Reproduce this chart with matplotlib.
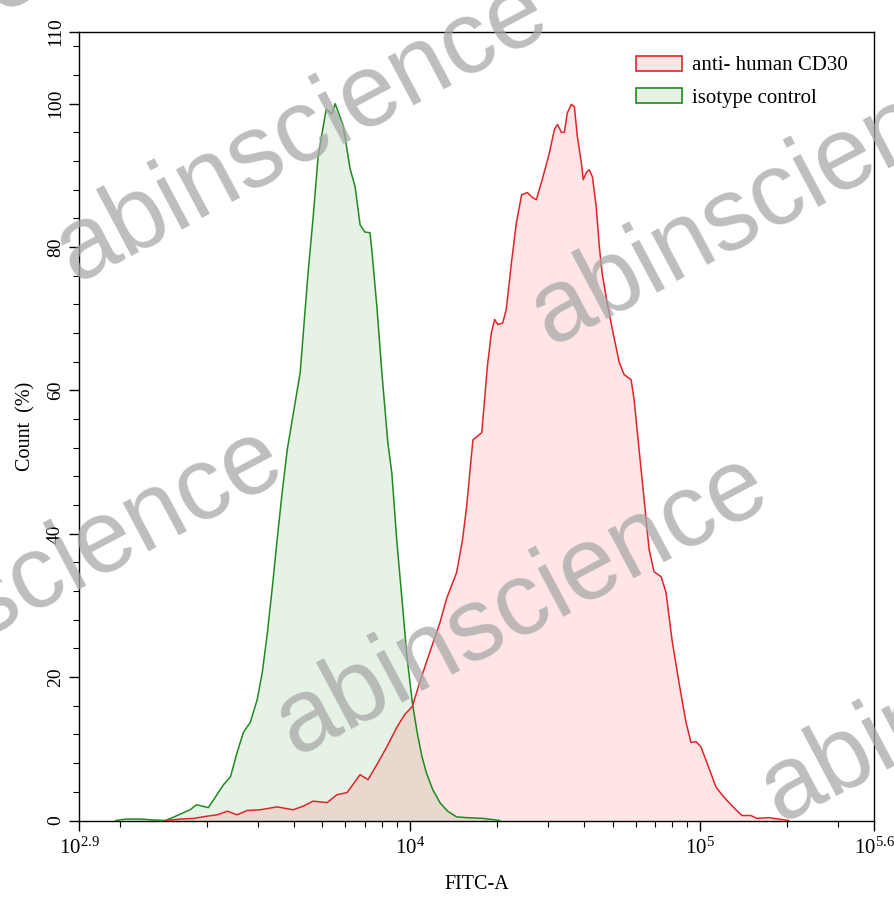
"""Flow cytometry overlay histogram: anti-human CD30 vs isotype control."""

import matplotlib.pyplot as plt
from matplotlib.patches import Patch

plt.rcParams["font.family"] = ["Liberation Serif", "DejaVu Serif"]
plt.rcParams["mathtext.fontset"] = "custom"
plt.rcParams["mathtext.rm"] = "Liberation Serif"

# isotype control (green)
iso_x = [969, 1050, 1180, 1280, 1440, 1520, 1660, 1750, 1840, 1930, 2020, 2140,
         2280, 2410, 2540, 2670, 2820, 2980, 3100, 3230, 3360, 3490, 3630, 3780,
         4190, 4460, 4640, 4830, 4990, 5150, 5390, 5530, 5890, 6220, 6480, 6740,
         7000, 7290, 7400, 7700, 8010, 8400, 8670, 9020, 9390, 9770, 10200, 10600,
         11000, 11400, 12000, 12700, 13500, 14500, 15700, 17800, 19600, 20400]
iso_y = [0.0, 0.2, 0.2, 0.1, 0.0, 0.4, 1.1, 1.5, 2.2, 2.0, 1.8, 3.3,
         5.0, 6.1, 9.5, 12.3, 13.7, 16.9, 20.6, 26.2, 32.6, 39.2, 45.7, 51.7,
         62.5, 76.4, 84.0, 92.6, 96.0, 99.2, 98.6, 100.0, 97.0, 91.0, 88.4, 83.1,
         82.1, 82.0, 79.5, 71.7, 62.5, 52.7, 48.5, 39.0, 31.0, 23.0, 16.5, 12.3,
         9.0, 6.7, 4.3, 2.5, 1.3, 0.5, 0.4, 0.3, 0.1, 0.0]

# anti-human CD30 (red)
cd30_x = [1440, 1620, 1800, 2000, 2170, 2350, 2540, 2750, 3050, 3490, 3960, 4290,
          4640, 5190, 5610, 6080, 6740, 7180, 7700, 8340, 9020, 9610, 10200, 10800,
          11700, 12700, 13400, 14500, 15200, 15700, 16100, 16500, 17100, 17700, 18100,
          18500, 19100, 19600, 20100, 20900, 21500, 22400, 23300, 24300, 25400, 26500,
          27300, 28600, 30300, 31500, 32300, 33300, 34100, 34900, 36000, 36900, 37800,
          39000, 39600, 40600, 41500, 42600, 43900, 45000, 46000, 47500, 49900, 52700,
          54800, 57900, 59300, 61700, 64200, 66800, 69500, 73500, 76400, 80100, 84700,
          89500, 93100, 96900, 100700, 105600, 113500, 119000, 125900, 133100, 139400,
          149700, 157000, 172700, 186800, 202000]
cd30_y = [0.0, 0.2, 0.3, 0.6, 0.8, 1.3, 0.8, 1.4, 1.5, 1.9, 1.5, 2.0,
          2.7, 2.5, 3.6, 3.9, 6.4, 5.7, 7.8, 10.3, 13.0, 14.8, 15.9, 19.2,
          23.4, 27.6, 31.0, 34.6, 39.2, 43.8, 48.5, 53.1, 53.6, 54.1, 58.7,
          63.3, 68.0, 69.9, 69.2, 69.4, 71.3, 77.8, 83.4, 87.3, 87.6, 86.9,
          86.6, 89.4, 93.2, 96.4, 97.1, 96.0, 96.0, 98.7, 99.9, 99.6, 95.4,
          91.8, 89.4, 90.4, 90.8, 89.8, 85.6, 80.0, 76.4, 73.0, 68.5, 63.9,
          62.2, 61.5, 58.7, 51.7, 44.8, 37.8, 34.7, 34.0, 31.8, 25.2, 19.2,
          13.7, 10.9, 11.0, 10.3, 8.1, 4.7, 3.6, 2.5, 1.5, 0.7,
          0.7, 0.3, 0.4, 0.2, 0.0]

x_ticks = [10 ** 2.86, 1e4, 1e5, 10 ** 5.6]
x_tick_labels = [r"$\mathregular{10^{2.9}}$", r"$\mathregular{10^{4}}$",
                 r"$\mathregular{10^{5}}$", r"$\mathregular{10^{5.6}}$"]
y_ticks = [0, 20, 40, 60, 80, 100, 110]

RED = "#e0242a"
GREEN = "#1f8a1f"

fig = plt.figure(figsize=(8.95, 8.99), dpi=100)
ax = fig.add_axes([0.0883, 0.0873, 0.8883, 0.8771])

ax.fill_between(iso_x, iso_y, 0, color=(0, 0.5, 0), alpha=0.1, lw=0, zorder=1)
ax.fill_between(cd30_x, cd30_y, 0, color=(1, 0, 0), alpha=0.1, lw=0, zorder=1)
ax.plot(iso_x, iso_y, color=GREEN, lw=1.1, zorder=3)
ax.plot(cd30_x, cd30_y, color=RED, lw=1.1, zorder=3)

ax.set_xscale("log")
ax.set_xlim(10 ** 2.86, 10 ** 5.6)
ax.set_ylim(0, 110)

ax.set_xticks(x_ticks)
ax.set_xticklabels(x_tick_labels)
minor_x = [1000] + [k * 1000 for k in range(2, 10)] + [k * 10000 for k in range(2, 10)] + [2e5, 3e5]
ax.set_xticks(minor_x, minor=True)
ax.set_xticklabels([], minor=True)

ax.set_yticks(y_ticks)
ax.set_yticks([v for v in range(4, 110, 4) if v % 20 != 0], minor=True)
for lab in ax.get_yticklabels():
    lab.set_rotation(90)
    lab.set_va("center")

ax.tick_params(axis="both", which="major", direction="out", length=7, width=1,
               labelsize=14, color="black")
ax.tick_params(axis="x", which="major", labelsize=15)
ax.tick_params(axis="both", which="minor", direction="out", length=4, width=0.8)
ax.tick_params(axis="y", which="major", pad=4)
ax.tick_params(axis="x", which="major", pad=5)

for sp in ax.spines.values():
    sp.set_linewidth(1.0)
    sp.set_color("black")

ax.set_xlabel("FITC-A", fontsize=14.5, labelpad=12)
ax.set_ylabel("Count  (%)", fontsize=14.5, labelpad=8)

handles = [
    Patch(facecolor=(1, 0.9, 0.9), edgecolor=RED, lw=1.2, label="anti- human CD30"),
    Patch(facecolor=(0.9, 0.95, 0.9), edgecolor=GREEN, lw=1.2, label="isotype control"),
]
ax.legend(handles=handles, loc="upper left", bbox_to_anchor=(0.7006, 0.970),
          frameon=False, fontsize=15, handlelength=2.2, handleheight=0.72,
          handletextpad=0.5, labelspacing=0.62, borderpad=0, borderaxespad=0)

# watermarks
wm_starts = [(-430, 240), (75, 282), (550, 345), (-190, 728), (295, 755), (780, 822)]
for px, py in wm_starts:
    fig.text(px / 895, 1 - py / 899, "abinscience", fontsize=74,
             family="Liberation Sans", color="#a8a8a8", alpha=0.75,
             rotation=28, rotation_mode="anchor", ha="left", va="baseline",
             zorder=10)

fig.savefig("out.png", dpi=100)
